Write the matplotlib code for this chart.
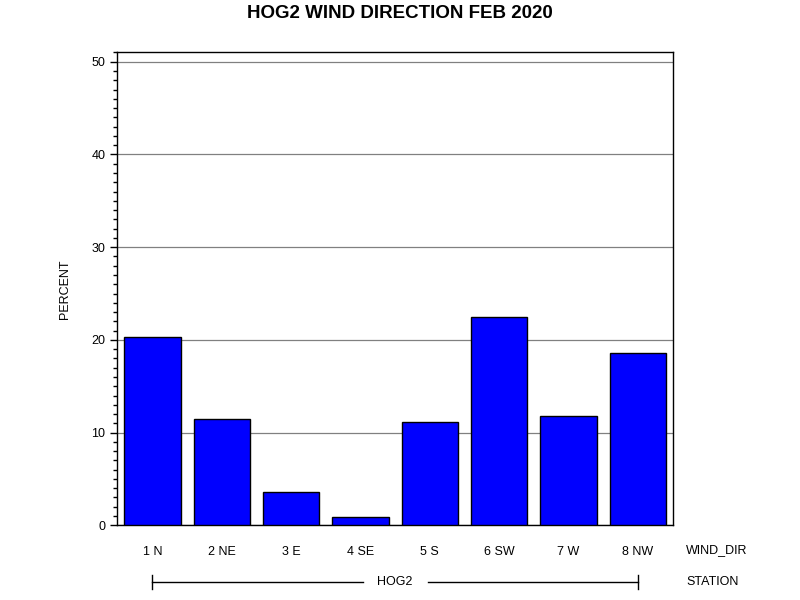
import matplotlib
matplotlib.use("Agg")
import matplotlib.pyplot as plt
from matplotlib.ticker import MultipleLocator

plt.rcParams['font.family'] = ['Liberation Sans', 'DejaVu Sans']

# wind direction share at station HOG2, Feb 2020
wind_dir = ['1 N', '2 NE', '3 E', '4 SE', '5 S', '6 SW', '7 W', '8 NW']
percent = [20.3, 11.5, 3.6, 0.9, 11.1, 22.5, 11.8, 18.6]
station = 'HOG2'

fig = plt.figure(figsize=(8, 6), dpi=100)
ax = fig.add_axes([0.1466, 0.1245, 0.695, 0.788])

x = list(range(len(wind_dir)))
ax.bar(x, percent, width=0.81, color='#0000ff', edgecolor='black', linewidth=1.0, zorder=3)

ax.set_xlim(-0.507, len(wind_dir) - 0.49)
ax.set_ylim(0, 51)
ax.yaxis.set_major_locator(MultipleLocator(10))
ax.yaxis.set_minor_locator(MultipleLocator(1))
ax.grid(axis='y', which='major', color='#808080', linewidth=0.9, zorder=1)

ax.set_xticks(x)
ax.set_xticklabels(wind_dir, fontsize=9)
ax.tick_params(axis='x', length=0, pad=15)
ax.tick_params(axis='y', which='major', length=5, width=1, labelsize=9, direction='out')
ax.tick_params(axis='y', which='minor', length=3, width=1, direction='out')
for s in ax.spines.values():
    s.set_linewidth(1)

ax.set_ylabel('PERCENT', fontsize=9, labelpad=15)
fig.text(0.5, 1 - 13 / 600, 'HOG2 WIND DIRECTION FEB 2020', ha='center', va='center',
         fontsize=13.5, fontweight='bold')

# second axis label rows
fig.text(717 / 800, 1 - 550 / 600, 'WIND_DIR', ha='center', va='center', fontsize=9)
fig.text(713 / 800, 1 - 582 / 600, 'STATION', ha='center', va='center', fontsize=9)

# station span line under the categories, broken around the label
trans = ax.get_xaxis_transform()
y_line = -0.12
mid = (x[0] + x[-1]) / 2
gap = 0.47
ax.text(mid, y_line, station, transform=trans, ha='center', va='center',
        fontsize=9, clip_on=False)
for x0, x1 in ((x[0], mid - gap), (mid + gap, x[-1])):
    ax.plot([x0, x1], [y_line, y_line], transform=trans, color='black', linewidth=1,
            clip_on=False)
for xe in (x[0], x[-1]):
    ax.plot([xe, xe], [y_line - 0.015, y_line + 0.015], transform=trans, color='black',
            linewidth=1, clip_on=False)

fig.savefig('out.png', dpi=100)
